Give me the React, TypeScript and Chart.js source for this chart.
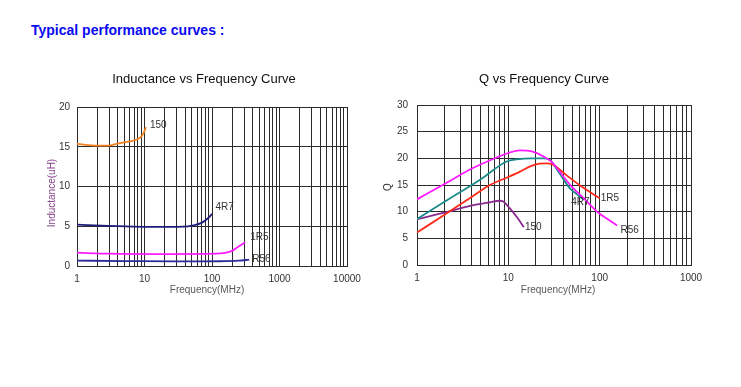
import React, { useEffect, useRef } from "react";
import { Chart, registerables } from "chart.js";

Chart.register(...registerables);

const FONT = "'Liberation Sans', Arial, Helvetica, sans-serif";

// ---------- Inductance vs Frequency (left) ----------
const ind150Freq = [1, 2, 3, 4, 6, 8, 9, 9.8, 10.5];
const ind150Val = [15.35, 15.13, 15.15, 15.4, 15.67, 15.98, 16.3, 16.8, 17.45];
const ind4R7Freq = [1, 3, 10, 38, 53, 70, 88, 100];
const ind4R7Val = [5.2, 5.04, 4.92, 4.96, 5.12, 5.42, 6.04, 6.55];
const ind1R5Freq = [1, 3, 17, 117, 195, 245, 310];
const ind1R5Val = [1.67, 1.55, 1.5, 1.55, 1.87, 2.42, 3.0];
const indR56Freq = [1, 5, 30, 130, 250, 356];
const indR56Val = [0.68, 0.62, 0.57, 0.6, 0.68, 0.8];

const indXTicks = [1, 10, 100, 1000, 10000];
const indYTicks = [0, 5, 10, 15, 20];

// ---------- Q vs Frequency (right) ----------
const qR56Freq = [1, 2, 4, 7.8, 10, 13.4, 18, 24, 30, 40, 50, 67, 97, 125, 155];
const qR56Val = [12.3, 15.2, 18.1, 20.3, 21.0, 21.5, 21.3, 20.4, 19.3, 16.6, 14.6, 12.5, 9.8, 8.5, 7.4];
const q4R7Freq = [1, 2, 5, 9.6, 12.3, 18, 24.3, 28.6, 32.6, 40, 47.6, 57, 67];
const q4R7Val = [8.6, 11.85, 16.1, 19.4, 19.8, 20.0, 20.0, 19.7, 18.4, 16.1, 14.3, 13.2, 12.2];
const q1R5Freq = [1, 2, 4, 6.3, 10, 13.4, 17.3, 22, 26, 31, 40, 60, 100];
const q1R5Val = [6.1, 9.4, 12.8, 15.0, 16.5, 17.5, 18.5, 19.0, 19.05, 18.8, 17.3, 15.0, 12.5];
const q150Freq = [1, 2, 3.8, 6, 8.1, 8.8, 10.4, 12.5, 14.8];
const q150Val = [8.6, 9.8, 11.1, 11.7, 12.05, 11.9, 10.6, 8.9, 7.1];

const qXTicks = [1, 10, 100, 1000];
const qYTicks = [0, 5, 10, 15, 20, 25, 30];

const GRID = "#2b2b2b";

function pts(fx: number[], vy: number[]) {
  return fx.map((x, i) => ({ x, y: vy[i] }));
}

function gridValues(min: number, max: number) {
  const out: number[] = [];
  for (let d = min; d < max; d *= 10) {
    for (let k = 1; k < 10; k++) out.push(d * k);
  }
  out.push(max);
  return out;
}

type LabelDef = { text: string; ds: number; dx: number; dy: number };

type Cfg = {
  left: number;
  top: number;
  width: number;
  height: number;
  area: { left: number; right: number; top: number; bottom: number };
  xMin: number;
  xMax: number;
  yMax: number;
  yStep: number;
  xTicks: number[];
  title: string;
  titleX: number;
  titleY: number;
  xTitle: string;
  xTitleX: number;
  xTitleY: number;
  yTitle: string;
  yTitleX: number;
  yTitleY: number;
  yTitleColor: string;
  yTickPad: number;
  datasets: { data: { x: number; y: number }[]; color: string }[];
  labels: LabelDef[];
};

function ChartBox({ cfg }: { cfg: Cfg }) {
  const ref = useRef<HTMLCanvasElement | null>(null);
  useEffect(() => {
    if (!ref.current) return;
    const grid = gridValues(cfg.xMin, cfg.xMax);
    const a = cfg.area;
    const textPlugin = {
      id: "texts",
      afterDraw(chart: any) {
        const ctx = chart.ctx as CanvasRenderingContext2D;
        ctx.save();
        ctx.textBaseline = "middle";
        ctx.fillStyle = "#111";
        ctx.font = `13px ${FONT}`;
        ctx.textAlign = "center";
        ctx.fillText(cfg.title, cfg.titleX, cfg.titleY);
        ctx.fillStyle = "#595959";
        ctx.font = `10px ${FONT}`;
        ctx.fillText(cfg.xTitle, cfg.xTitleX, cfg.xTitleY);
        ctx.save();
        ctx.translate(cfg.yTitleX, cfg.yTitleY);
        ctx.rotate(-Math.PI / 2);
        ctx.fillStyle = cfg.yTitleColor;
        ctx.fillText(cfg.yTitle, 0, 0);
        ctx.restore();
        ctx.textAlign = "left";
        ctx.fillStyle = "#333";
        ctx.font = `10px ${FONT}`;
        for (const l of cfg.labels) {
          const meta = chart.getDatasetMeta(l.ds);
          const last = meta.data[meta.data.length - 1];
          ctx.fillText(l.text, last.x + l.dx, last.y + l.dy);
        }
        ctx.restore();
      },
    };
    const chart = new Chart(ref.current, {
      type: "line",
      data: {
        datasets: cfg.datasets.map((d) => ({
          data: d.data,
          borderColor: d.color,
          backgroundColor: d.color,
          borderWidth: 1.8,
          pointRadius: 0,
          fill: false,
          cubicInterpolationMode: "monotone" as const,
        })),
      },
      options: {
        responsive: false,
        animation: false,
        events: [],
        devicePixelRatio: 1,
        layout: {
          padding: {
            left: 0,
            top: a.top,
            right: cfg.width - a.right,
            bottom: 0,
          },
        },
        plugins: {
          legend: { display: false },
          tooltip: { enabled: false },
          title: { display: false },
        },
        scales: {
          x: {
            type: "logarithmic",
            min: cfg.xMin,
            max: cfg.xMax,
            afterBuildTicks: (s: any) => {
              s.ticks = grid.map((v) => ({ value: v }));
            },
            afterFit: (s: any) => {
              s.height = cfg.height - a.bottom;
              s.paddingLeft = 0;
              s.paddingRight = 0;
            },
            ticks: {
              autoSkip: false,
              maxRotation: 0,
              minRotation: 0,
              padding: 7,
              color: "#333",
              font: { family: FONT, size: 10 },
              callback: (v: any) => (cfg.xTicks.includes(Number(v)) ? String(v) : ""),
            },
            grid: { color: GRID, lineWidth: 1, drawTicks: false },
            border: { color: GRID },
          },
          y: {
            type: "linear",
            min: 0,
            max: cfg.yMax,
            afterFit: (s: any) => {
              s.width = a.left;
              s.paddingTop = 0;
              s.paddingBottom = 0;
            },
            ticks: {
              stepSize: cfg.yStep,
              padding: cfg.yTickPad,
              color: "#333",
              font: { family: FONT, size: 10 },
            },
            grid: { color: GRID, lineWidth: 1, drawTicks: false },
            border: { color: GRID },
          },
        },
      },
      plugins: [textPlugin],
    } as any);
    return () => chart.destroy();
  }, [cfg]);
  return (
    <canvas
      ref={ref}
      width={cfg.width}
      height={cfg.height}
      style={{ position: "absolute", left: cfg.left, top: cfg.top, width: cfg.width, height: cfg.height }}
    />
  );
}

const leftCfg: Cfg = {
  left: 0,
  top: 40,
  width: 370,
  height: 270,
  area: { left: 77, right: 347, top: 67, bottom: 226 },
  xMin: 1,
  xMax: 10000,
  yMax: indYTicks[indYTicks.length - 1],
  yStep: 5,
  xTicks: indXTicks,
  title: "Inductance vs Frequency Curve",
  titleX: 204,
  titleY: 39,
  xTitle: "Frequency(MHz)",
  xTitleX: 207,
  xTitleY: 250,
  yTitle: "Inductance(uH)",
  yTitleX: 52,
  yTitleY: 153,
  yTitleColor: "#86408a",
  yTickPad: 7,
  datasets: [
    { data: pts(ind150Freq, ind150Val), color: "#f58220" },
    { data: pts(ind4R7Freq, ind4R7Val), color: "#1f1f7a" },
    { data: pts(ind1R5Freq, ind1R5Val), color: "#ff1aff" },
    { data: pts(indR56Freq, indR56Val), color: "#2a2a9a" },
  ],
  labels: [
    { text: "150", ds: 0, dx: 4, dy: -2 },
    { text: "4R7", ds: 1, dx: 3.5, dy: -7 },
    { text: "1R5", ds: 2, dx: 5, dy: -5 },
    { text: "R56", ds: 3, dx: 3, dy: 0 },
  ],
};

const rightCfg: Cfg = {
  left: 370,
  top: 40,
  width: 371,
  height: 270,
  area: { left: 47, right: 321, top: 65, bottom: 225 },
  xMin: 1,
  xMax: 1000,
  yMax: qYTicks[qYTicks.length - 1],
  yStep: 5,
  xTicks: qXTicks,
  title: "Q vs Frequency Curve",
  titleX: 174,
  titleY: 39,
  xTitle: "Frequency(MHz)",
  xTitleX: 188,
  xTitleY: 250,
  yTitle: "Q",
  yTitleX: 18,
  yTitleY: 147,
  yTitleColor: "#333",
  yTickPad: 9,
  datasets: [
    { data: pts(qR56Freq, qR56Val), color: "#ff1aff" },
    { data: pts(q1R5Freq, q1R5Val), color: "#ff2a1a" },
    { data: pts(q4R7Freq, q4R7Val), color: "#1a8c8c" },
    { data: pts(q150Freq, q150Val), color: "#8a2a8f" },
  ],
  labels: [
    { text: "R56", ds: 0, dx: 3.5, dy: 4.5 },
    { text: "1R5", ds: 1, dx: 1, dy: 0 },
    { text: "4R7", ds: 2, dx: -12.5, dy: 2 },
    { text: "150", ds: 3, dx: 1, dy: 0 },
  ],
};

export default function App() {
  return (
    <div style={{ position: "absolute", left: 0, top: 0, width: 741, height: 387, background: "#fff", overflow: "hidden" }}>
      <div
        style={{
          position: "absolute",
          left: 31,
          top: 22,
          fontFamily: FONT,
          fontWeight: "bold",
          fontSize: 14,
          lineHeight: "16px",
          color: "#0a0af0",
          whiteSpace: "nowrap",
        }}
      >
        Typical performance curves :
      </div>
      <ChartBox cfg={leftCfg} />
      <ChartBox cfg={rightCfg} />
    </div>
  );
}
